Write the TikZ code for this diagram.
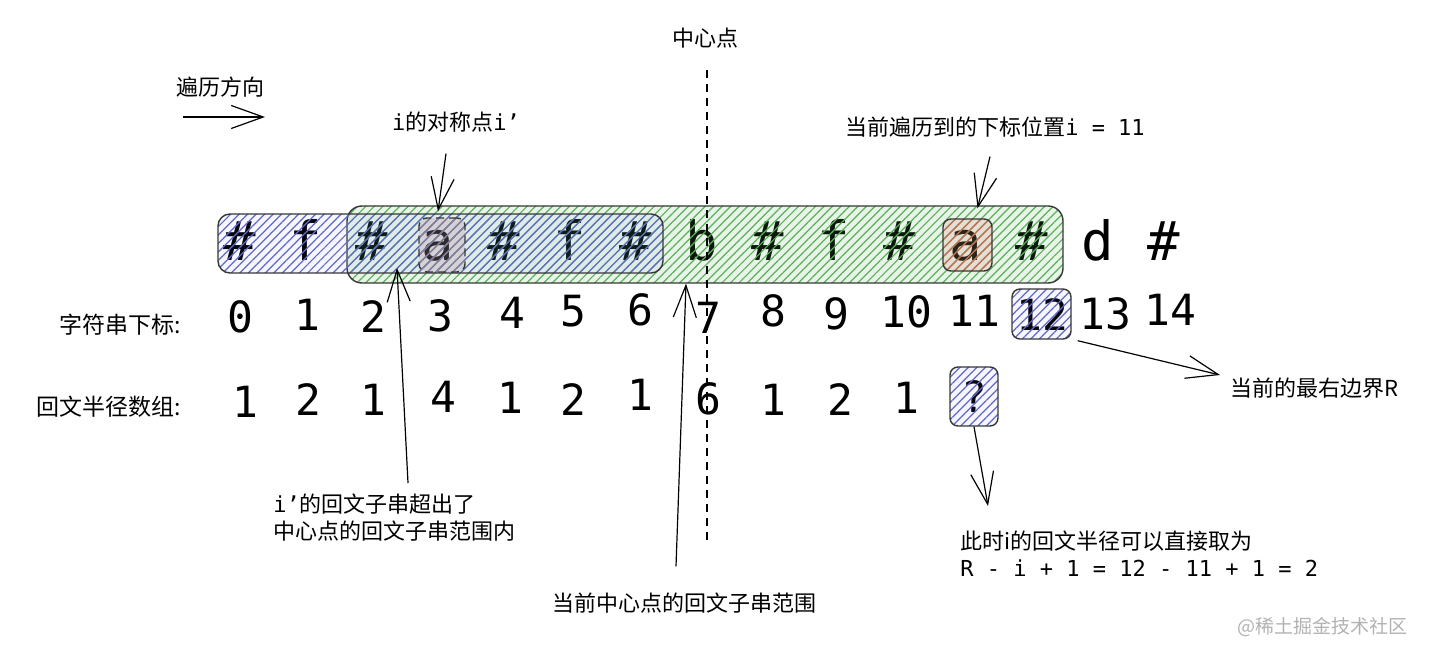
\documentclass[tikz,border=0pt]{standalone}
\usepackage{fontspec}
\setmainfont{Noto Sans CJK SC}
\newfontfamily\monofont{DejaVu Sans Mono}
\usepackage{xcolor}
\usetikzlibrary{arrows.meta,patterns.meta}

\definecolor{hblue}{RGB}{95,105,205}
\definecolor{hgreen}{RGB}{90,175,90}
\definecolor{hred}{RGB}{200,105,85}
\definecolor{hmauve}{RGB}{150,120,150}
\definecolor{edge}{RGB}{55,55,55}

\begin{document}
\begin{tikzpicture}[
    x=0.5pt, y=-0.5pt,
    lbl/.style={font=\fontsize{11}{13.5}\selectfont, inner sep=0pt},
    side/.style={font=\fontsize{11.5}{14}\selectfont, inner sep=0pt, anchor=east},
    chr/.style={font=\monofont\fontsize{27}{30}\selectfont, anchor=base, inner sep=0pt},
    num/.style={font=\monofont\fontsize{21.5}{24}\selectfont, anchor=base, inner sep=0pt},
    hbox/.style={draw=edge, line width=0.7pt, inner sep=0pt},
    bluehatch/.style={pattern={Lines[angle=45,distance=3pt,line width=0.6pt]}, pattern color=hblue,
        preaction={fill=hblue, fill opacity=0.06}},
    greenhatch/.style={pattern={Lines[angle=45,distance=3pt,line width=0.6pt]}, pattern color=hgreen,
        preaction={fill=hgreen, fill opacity=0.14}},
    redhatch/.style={pattern={Lines[angle=45,distance=3pt,line width=0.6pt]}, pattern color=hred,
        preaction={fill=hred, fill opacity=0.15}},
    mauvehatch/.style={pattern={Lines[angle=45,distance=3pt,line width=0.6pt]}, pattern color=hmauve,
        preaction={fill=hmauve, fill opacity=0.2}},
    arrow/.style={-{Straight Barb[length=16pt,width=11.5pt]}, line width=0.6pt},
    ctrline/.style={dash pattern=on 4pt off 3pt, line width=0.8pt}
]
\useasboundingbox (0,0) rectangle (1430,657);

% the string with separators
\foreach \ch [count=\k from 0] in {\#,f,\#,a,\#,f,\#,b,\#,f,\#,a,\#,d,\#}
    \node[chr] (c\k) at (240+66*\k,261) {\ch};

% index row
\node[side] (idxlbl) at (181,325) {字符串下标:};
\foreach \n/\xx/\yy in {0/240/333, 1/307/331, 2/373/333, 3/440/332, 4/512/329, 5/573/327,
    6/640/326, 7/708/334, 8/773/327, 9/836/330, 10/906/328, 11/974/327, 12/1042/331,
    13/1105/330, 14/1170/326}
    \node[num] (idx\n) at (\xx,\yy) {\n};

% radius row
\node[side] (radlbl) at (181,407) {回文半径数组:};
\foreach \k/\v/\xx/\yy in {0/1/245/418, 1/2/308/416, 2/1/373/416, 3/4/443/413, 4/1/510/414,
    5/2/573/416, 6/1/640/411, 7/6/708/415, 8/1/773/416, 9/2/840/416, 10/1/906/414}
    \node[num] (rad\k) at (\xx,\yy) {\v};
\node[num] (qmark) at (974,413) {?};

% hatched ranges
\node[hbox, greenhatch, rounded corners=7.5pt, minimum width=358pt, minimum height=38.5pt] (palbox) at (705,244.5) {};
\node[hbox, bluehatch, rounded corners=6pt, minimum width=222.5pt, minimum height=29.5pt] (leftbox) at (440.5,243.5) {};
\node[hbox, mauvehatch, dash pattern=on 4pt off 2.5pt, rounded corners=4pt, minimum width=23pt, minimum height=27pt] (mirbox) at (442,245) {};
\node[hbox, redhatch, rounded corners=4pt, minimum width=24.5pt, minimum height=26pt] (curbox) at (967.5,245) {};
\node[hbox, bluehatch, rounded corners=4pt, minimum width=29.5pt, minimum height=25pt] (rbox) at (1041.5,314) {};
\node[hbox, bluehatch, rounded corners=4pt, minimum width=24pt, minimum height=29.5pt] (qbox) at (974,396.5) {};

% center line
\node[lbl] (ctrlbl) at (705,38) {中心点};
\coordinate (ctrtop) at (707,70);
\coordinate (ctrbot) at (707,540);
\draw[ctrline] (ctrtop) -- (ctrbot);

% direction
\node[lbl] (dirlbl) at (220,87) {遍历方向};
\coordinate (dirA) at (183,117);
\coordinate (dirB) at (265,117);
\draw[arrow] (dirA) -- (dirB);

% labels and pointers
\node[lbl] (symlbl) at (456,122) {{\monofont i}的对称点{\monofont i’}};
\draw[arrow] ([shift={(-10,21)}]symlbl.south) -- ([shift={(-4,-6)}]mirbox.north);

\node[lbl] (curlbl) at (995,127) {当前遍历到的下标位置{\monofont i = 11}};
\draw[arrow] ([shift={(-5,19)}]curlbl.south) -- ([shift={(10,-10)}]curbox.north);

\node[lbl, anchor=west] (rlbl) at (1230,388) {当前的最右边界R};
\draw[arrow] ([shift={(6,1)}]rbox.south east) -- ([shift={(-10,-13)}]rlbl.west);

\node[lbl, anchor=north west, align=left] (mixlbl) at (273,493)
    {{\monofont i’}的回文子串超出了\\中心点的回文子串范围内};
\coordinate (mixtip) at (397,268);
\draw[arrow] ([shift={(135,-10)}]mixlbl.north west) -- (mixtip);

\node[lbl] (spanlbl) at (684,603) {当前中心点的回文子串范围};
\draw[arrow] ([shift={(-8,-26)}]spanlbl.north) -- ([shift={(-19,0)}]palbox.south);

\node[lbl, anchor=north west, align=left] (notelbl) at (960,530)
    {此时i的回文半径可以直接取为\\{\monofont R - i + 1 = 12 - 11 + 1 = 2}};
\draw[arrow] (qbox.south) -- ([shift={(28,-24)}]notelbl.north west);

% watermark
\node[font=\fontsize{9.5}{11}\selectfont, text=black!30, anchor=east, inner sep=0pt] (mark) at (1408,627) {@稀土掘金技术社区};
\end{tikzpicture}
\end{document}
